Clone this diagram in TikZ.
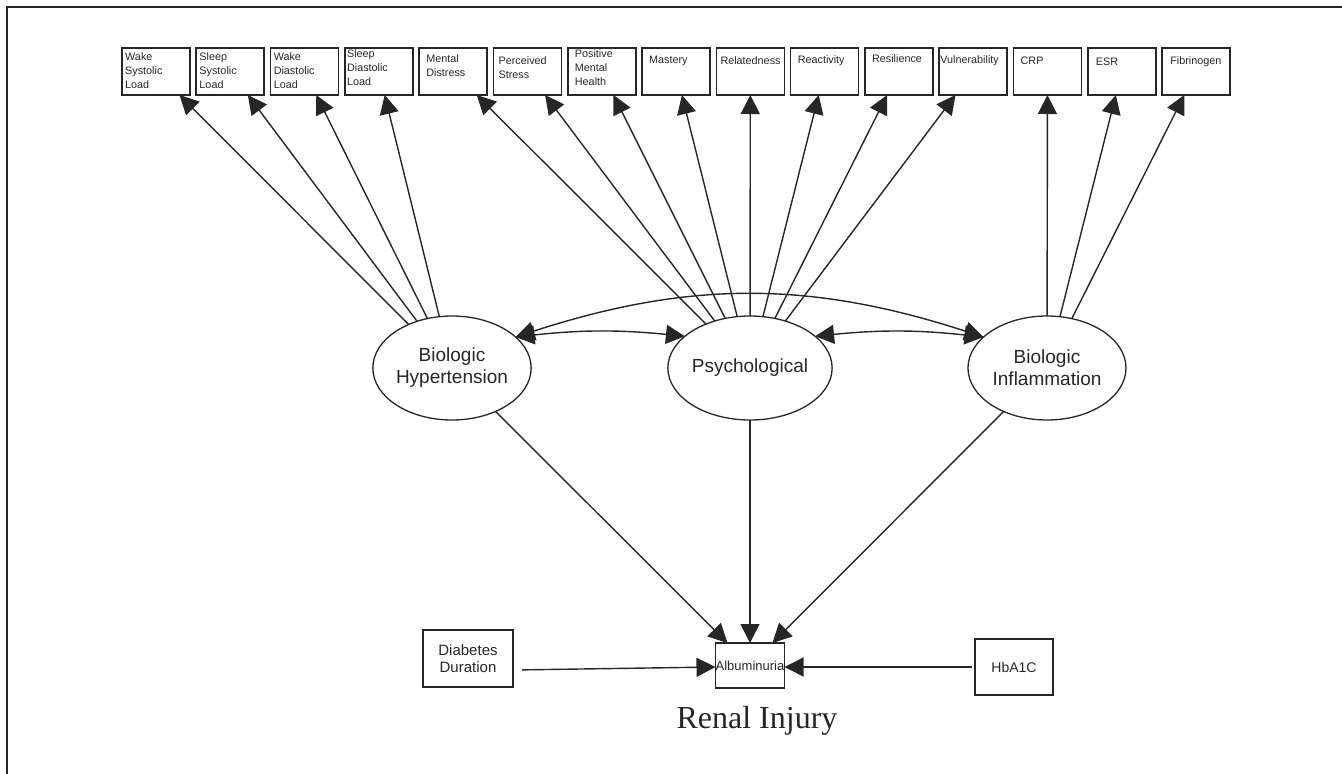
\documentclass[tikz,border=0pt]{standalone}
\usepackage{fontspec}
\setmainfont{Liberation Sans}
\newfontfamily\rserif{Liberation Serif}
\usetikzlibrary{arrows.meta,shapes.geometric}
\definecolor{ink}{gray}{0.15}
\tikzset{
  topbox/.style={draw=ink, line width=1.6pt, minimum width=68pt, minimum height=47pt, inner sep=0pt, outer sep=0pt},
  boxtxt/.style={anchor=north west, inner sep=0pt, text width=68pt, align=left, font=\fontsize{10.8}{14}\selectfont, text=ink},
  latent/.style={ellipse, draw=ink, line width=1.3pt, minimum width=158pt, minimum height=104pt, inner sep=0pt, outer sep=0pt, align=center, font=\fontsize{19}{22}\selectfont, text=ink},
  obsbox/.style={draw=ink, line width=1.5pt, inner sep=0pt, outer sep=0pt, align=center, text=ink},
  arr/.style={draw=ink, line width=1.4pt, -{Triangle[length=19pt,width=19pt]}},
  darr/.style={draw=ink, line width=1.4pt, {Triangle[length=19pt,width=19pt]}-{Triangle[length=19pt,width=19pt]}},
}
\begin{document}
\begin{tikzpicture}[x=1pt,y=-1pt]
\useasboundingbox (0,0) rectangle (1342,774);
\draw[ink, line width=2pt] (7,774) -- (7,7) -- (1342,7);

% top indicator boxes
\foreach \i/\n/\xo/\yo/\t in {
  0/b1/3/4.5/{Wake\\Systolic\\Load},
  1/b2/3/4.5/{Sleep\\Systolic\\Load},
  2/b3/3/4.5/{Wake\\Diastolic\\Load},
  3/b4/2/1.5/{Sleep\\Diastolic\\Load},
  4/b5/7/6.5/{Mental\\Distress},
  5/b6/5/8.5/{Perceived\\Stress},
  6/b7/7/1.5/{Positive\\Mental\\Health},
  7/b8/7/7.5/{Mastery},
  8/b9/4/8.5/{Relatedness},
  9/b10/7/7.5/{Reactivity},
  10/b11/7/6.5/{Resilience},
  11/b12/1/7.5/{Vulnerability},
  12/b13/7/8.5/{CRP},
  13/b14/8/9.5/{ESR},
  14/b15/8/8.5/{Fibrinogen}}{
  \node[topbox] (\n) at ({156+74.29*\i},71.5) {};
  \node[boxtxt] (\n t) at ([xshift=\xo pt, yshift=-\yo pt]\n.north west) {\t};
}

% latent variables
\node[latent] (hyp) at (452,368) {Biologic\\Hypertension};
\node[latent] (psy) at (750,368) {Psychological};
\node[latent] (inf) at (1047,368) {Biologic\\Inflammation};

% outcome and covariates
\node[obsbox, minimum width=69pt, minimum height=45pt, font=\fontsize{13}{14}\selectfont] (alb) at (750,665.5) {Albuminuria};
\node[obsbox, minimum width=90pt, minimum height=57pt, font=\fontsize{15}{17}\selectfont] (dd) at (468,658.5) {Diabetes\\Duration};
\node[obsbox, minimum width=78pt, minimum height=56pt, font=\fontsize{14}{16}\selectfont] (hb) at (1014,667) {HbA1C};
\node[anchor=base, inner sep=0pt, font=\rserif\fontsize{32}{36}\selectfont, text=ink] (ri) at (757,728) {Renal Injury};

% loadings
\foreach \b in {b1,b2,b3,b4} \draw[arr] (hyp) -- (\b);
\foreach \b in {b5,b6,b7,b8,b9,b10,b11,b12} \draw[arr] (psy) -- (\b);
\foreach \b in {b13,b14,b15} \draw[arr] (inf) -- (\b);

% covariances
\draw[darr] (hyp.26) to[bend left=6] (psy.154);
\draw[darr] (psy.26) to[bend left=6] (inf.154);
\draw[darr] (hyp.26) to[bend left=18] (inf.154);

% paths to albuminuria
\draw[arr] (hyp) -- (alb);
\draw[arr] (psy) -- (alb);
\draw[arr] (inf) -- (alb);
\draw[arr, shorten <=9pt] ([yshift=-11.5pt]dd.east) -- ([yshift=-1.5pt]alb.west);
\draw[arr, shorten <=3pt] (hb.west) -- ([yshift=-1.5pt]alb.east);
\end{tikzpicture}
\end{document}
